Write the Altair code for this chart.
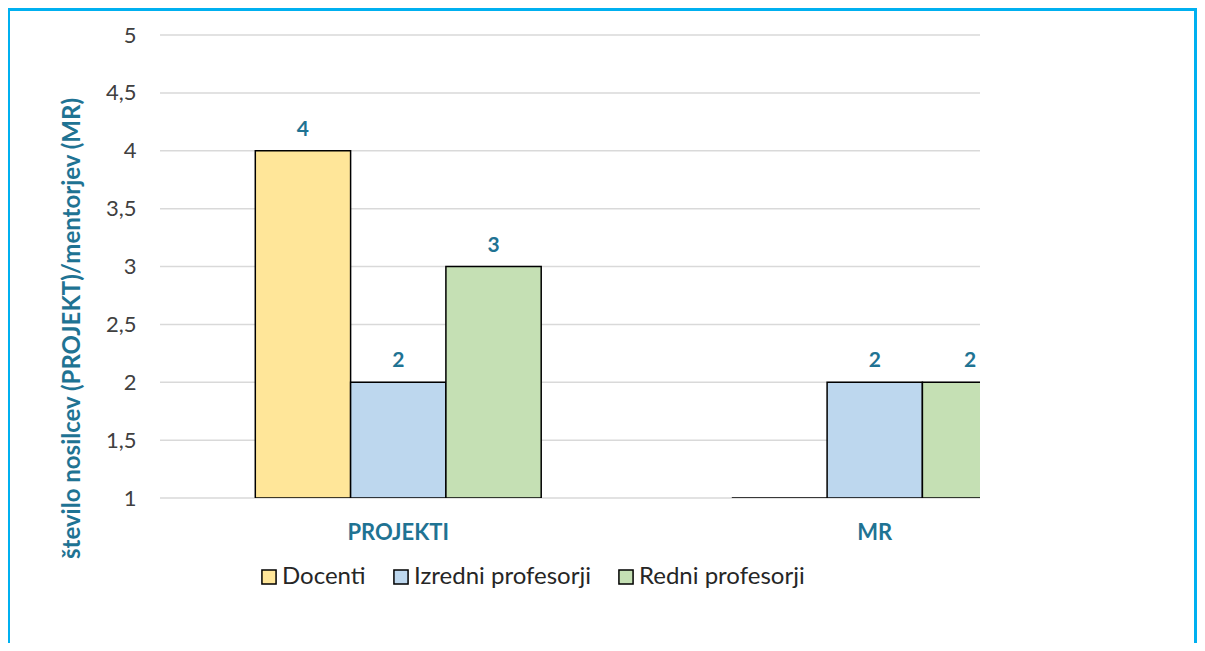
import altair as alt
import pandas as pd

categories = ["PROJEKTI", "MR"]
series = ["Docenti", "Izredni profesorji", "Redni profesorji"]
docenti = [4, 1]
izredni = [2, 2]
redni = [3, 2]
colors = ["#FFE699", "#BDD7EE", "#C5E0B4"]
y_ticks = [1, 1.5, 2, 2.5, 3, 3.5, 4, 4.5, 5]

rows = []
for i, cat in enumerate(categories):
    for s, vals in zip(series, [docenti, izredni, redni]):
        rows.append({"kategorija": cat, "serija": s, "vrednost": vals[i]})
df = pd.DataFrame(rows)
grid_df = pd.DataFrame({"vrednost": y_ticks})

FONT = "Lato"
TEAL = "#1F7393"

y_scale = alt.Scale(domain=[1, 5], zero=False, nice=False)
y_axis = alt.Axis(
    title="število nosilcev (PROJEKT)/mentorjev (MR)",
    values=y_ticks, labelExpr="replace(toString(datum.value), '.', ',')",
    labelFont=FONT, labelFontSize=22, labelColor="#404040", labelPadding=24,
    domain=False, ticks=False, tickSize=0, grid=False,
    titleFont=FONT, titleFontSize=24, titleFontWeight="bold", titleColor=TEAL,
    titleAngle=270, titleAlign="center", titleBaseline="middle", titleX=-88, titleY=293,
)

x_enc = alt.X(
    "kategorija:N", sort=categories,
    scale=alt.Scale(range=[0, 953], paddingInner=0.4, paddingOuter=0.2),
    axis=alt.Axis(title=None, labelFont=FONT, labelFontWeight="bold", labelFontSize=22,
                  labelColor=TEAL, domain=False, ticks=False, tickSize=0, labelPadding=24,
                  labelAngle=0, grid=False),
)
xo_enc = alt.XOffset("serija:N", sort=series, scale=alt.Scale(paddingInner=0, paddingOuter=0))
y_enc = alt.Y("vrednost:Q", scale=y_scale, axis=y_axis)

grid = alt.Chart(grid_df).mark_rule(color="#D9D9D9", strokeWidth=1.5).encode(
    y=y_enc, x=alt.value(0), x2=alt.value(820)
)

bars = alt.Chart(df).mark_bar(stroke="black", strokeWidth=1.5, clip=True).encode(
    x=x_enc, xOffset=xo_enc, y=y_enc, y2=alt.datum(1),
    fill=alt.Fill("serija:N", sort=series, scale=alt.Scale(domain=series, range=colors),
                  legend=alt.Legend(title=None, orient="none", direction="horizontal",
                                    legendX=97, legendY=530, symbolType="square",
                                    symbolSize=200, symbolStrokeColor="black",
                                    symbolStrokeWidth=1.5, labelFont=FONT, labelFontSize=24,
                                    labelLimit=400, labelColor="#262626", labelOffset=1,
                                    columnPadding=23)),
)

labels = alt.Chart(df).transform_filter("datum.vrednost > 1").mark_text(
    font=FONT, fontSize=21, fontWeight="bold", color=TEAL, baseline="alphabetic", dy=-15, clip=True
).encode(x=x_enc, xOffset=xo_enc, y=y_enc, text=alt.Text("vrednost:Q"))

frame_data = alt.Data(values=[{"d": 1}])
CYAN = "#00B0F0"
top_band = alt.Chart(frame_data).mark_rect(color=CYAN, clip=False).encode(
    x=alt.value(-152), x2=alt.value(1037), y=alt.value(-27), y2=alt.value(-24))
left_band = alt.Chart(frame_data).mark_rect(color=CYAN, clip=False).encode(
    x=alt.value(-152), x2=alt.value(-150), y=alt.value(-27), y2=alt.value(608))
right_band = alt.Chart(frame_data).mark_rect(color=CYAN, clip=False).encode(
    x=alt.value(1034), x2=alt.value(1037), y=alt.value(-27), y2=alt.value(608))

chart = alt.layer(grid, bars, labels, top_band, left_band, right_band).properties(
    width=820, height=463,
    autosize=alt.AutoSizeParams(type="none"),
    padding={"left": 152, "top": 27, "right": 217, "bottom": 145},
    background="white",
).configure_view(stroke=None)

chart.save("out.html", embed_options={"renderer": "svg", "actions": False})
